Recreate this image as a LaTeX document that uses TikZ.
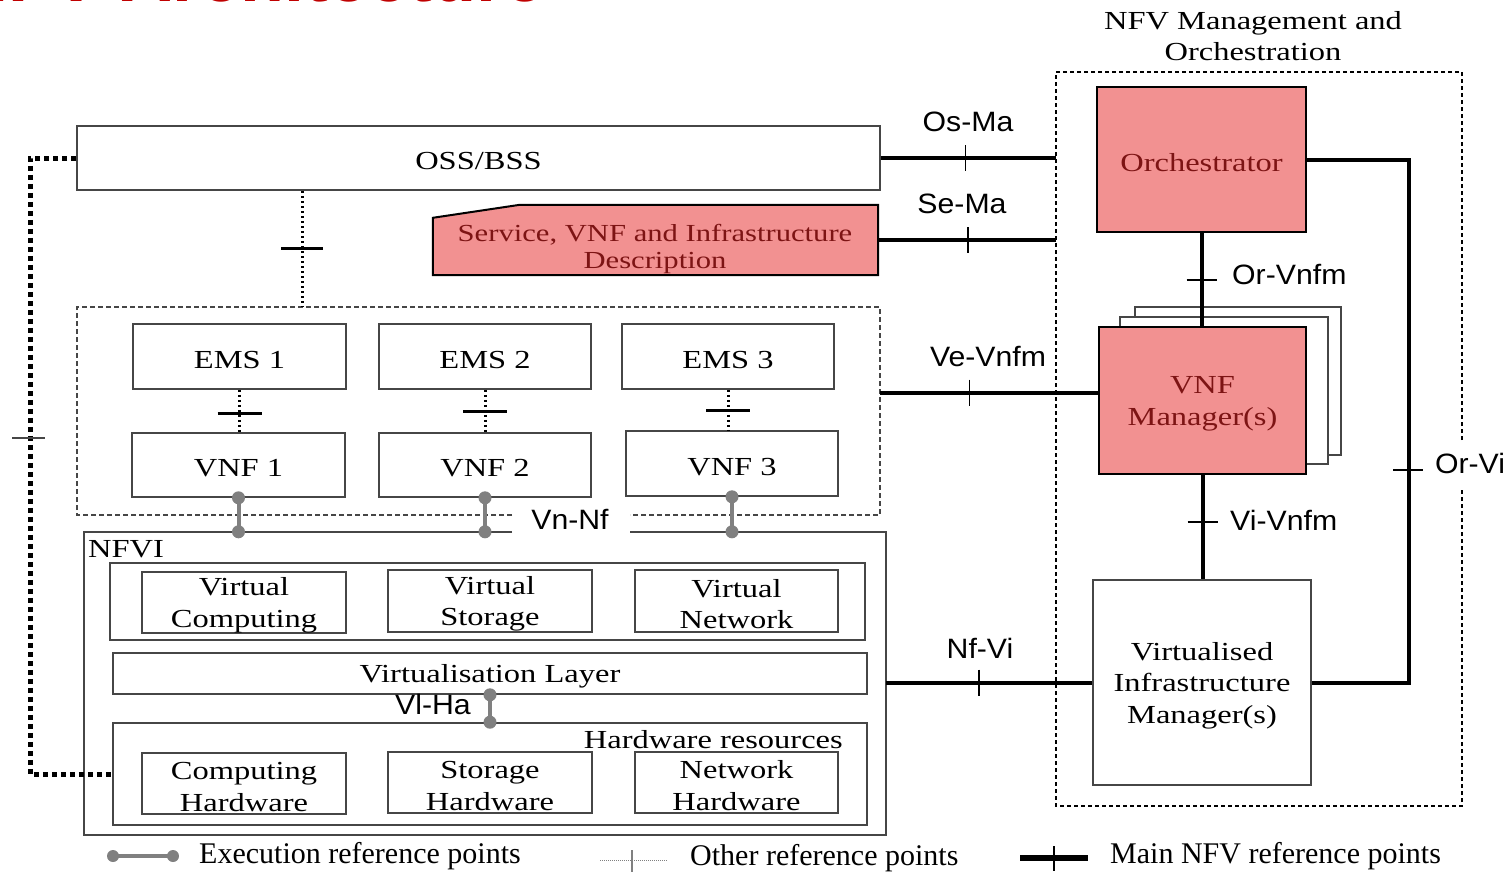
\documentclass[tikz,border=0pt]{standalone}
\usepackage{fontspec}
\setmainfont{Liberation Serif}[FakeStretch=1.25]
\newfontfamily\labfont{Liberation Sans}[FakeStretch=1.08]
\newfontfamily\legfont{Liberation Serif}
\newfontfamily\ttlfont{Liberation Sans}
\newcommand\mainsz{\fontsize{26}{31.5}\selectfont}
\newcommand\dn{\rule{0pt}{24pt}}
\definecolor{boxgray}{RGB}{70,70,70}
\definecolor{redfill}{RGB}{242,145,145}
\definecolor{redtext}{RGB}{125,20,20}
\definecolor{execgray}{RGB}{128,128,128}
\definecolor{titlered}{RGB}{192,0,0}
\begin{document}
\begin{tikzpicture}[x=1pt,y=-1pt,
  box/.style={draw=boxgray, line width=1.6pt, fill=white, align=center, inner sep=0pt, font=\mainsz},
  redbox/.style={draw=black, line width=2pt, fill=redfill, text=redtext, align=center, inner sep=0pt, font=\mainsz},
  plain/.style={inner sep=0pt, align=center, font=\mainsz},
  lbl/.style={inner sep=0pt, font=\labfont\fontsize{28}{30}\selectfont},
  legtxt/.style={inner sep=0pt, anchor=west, font=\legfont\fontsize{30}{32}\selectfont},
  mainref/.style={line width=4pt, black},
  tickm/.style={line width=1.6pt, black},
  otherref/.style={line width=3pt, black, dash pattern=on 2.5pt off 2.5pt},
  othertick/.style={line width=3pt, black},
  bigdots/.style={line width=5pt, black, dash pattern=on 5pt off 4pt},
  dashbox/.style={draw=boxgray, line width=1.6pt, dash pattern=on 5pt off 3pt},
  manodash/.style={draw=black, line width=1.6pt, dash pattern=on 4pt off 3pt},
  execref/.style={line width=4pt, draw=execgray},
  execdot/.style={fill=execgray}
]
\useasboundingbox[fill=white] (0,0) rectangle (1509,871);

% slide title, cut off by the top edge
\node[anchor=base east, text=titlered, inner sep=0pt, font=\ttlfont\bfseries\fontsize{72}{80}\selectfont] (title) at (545,1) {NFV Architecture};

% ---------------- MANO ----------------
\node[plain] (manotitle) at (1253,36) {NFV Management and\\Orchestration};
\node[minimum width=406pt, minimum height=734pt, inner sep=0pt] (mano) at (1259,439) {};
\draw[manodash] (1462,440) -- (1462,72) -- (1056,72) -- (1056,806) -- (1462,806) -- (1462,490);

\node[redbox, minimum width=209pt, minimum height=145pt] (orch) at (1201.5,159.5) {\dn Orchestrator};
\node[box, line width=1.2pt, minimum width=206pt, minimum height=148pt] (vnfmb3) at (1238,381) {};
\node[box, line width=1.2pt, minimum width=208pt, minimum height=147pt] (vnfmb2) at (1224,390.5) {};
\node[redbox, minimum width=207pt, minimum height=147pt] (vnfm) at (1202.5,400.5) {\dn VNF\\Manager(s)};
\node[box, minimum width=218pt, minimum height=205pt] (vim) at (1202,682.5) {\dn Virtualised\\Infrastructure\\Manager(s)};

% ---------------- OSS / descriptions ----------------
\node[box, minimum width=803pt, minimum height=64pt] (oss) at (478.5,158) {\dn OSS/BSS};
\node[minimum width=445pt, minimum height=70pt, inner sep=0pt] (sd) at (655.5,240) {};
\draw[black, line width=2pt, fill=redfill] ([yshift=-13pt]sd.north west) -- ([xshift=87pt]sd.north west) -- (sd.north east) -- (sd.south east) -- (sd.south west) -- cycle;
\node[plain, text=redtext, font=\fontsize{24.5}{27}\selectfont] (sdtext) at (655,249) {Service, VNF and Infrastructure\\Description};

% ---------------- VNF layer ----------------
\node[minimum width=803pt, minimum height=208pt, inner sep=0pt] (vnflayer) at (478.5,411) {};
\draw[dashbox] (512,515) -- (77,515) -- (77,307) -- (880,307) -- (880,515) -- (630,515);
\node[box, minimum width=213pt, minimum height=65pt] (ems1) at (239.5,356.5) {\dn EMS 1};
\node[box, minimum width=212pt, minimum height=65pt] (ems2) at (485,356.5) {\dn EMS 2};
\node[box, minimum width=212pt, minimum height=65pt] (ems3) at (728,356.5) {\dn EMS 3};
\node[box, minimum width=213pt, minimum height=64pt] (vnf1) at (238.5,465) {\dn VNF 1};
\node[box, minimum width=212pt, minimum height=64pt] (vnf2) at (485,465) {\dn VNF 2};
\node[box, minimum width=212pt, minimum height=65pt] (vnf3) at (732,463.5) {\dn VNF 3};

% ---------------- NFVI ----------------
\node[minimum width=802pt, minimum height=303pt, inner sep=0pt] (nfvi) at (485,683.5) {};
\draw[draw=boxgray, line width=1.6pt] (512,532) -- (84,532) -- (84,835) -- (886,835) -- (886,532) -- (630,532);
\node[plain, anchor=north west] (nfvilbl) at (88,533) {\dn NFVI};
\node[box, minimum width=755pt, minimum height=77pt] (vres) at (487.5,601.5) {};
\node[box, minimum width=204pt, minimum height=61pt] (vc) at (244,602.5) {\dn Virtual\\Computing};
\node[box, minimum width=204pt, minimum height=62pt] (vs) at (490,601) {\dn Virtual\\Storage};
\node[box, minimum width=203pt, minimum height=62pt] (vn) at (736.5,601) {\dn Virtual\\Network};
\node[box, minimum width=754pt, minimum height=41pt] (vl) at (490,673.5) {\dn Virtualisation Layer};
\node[box, minimum width=754pt, minimum height=102pt] (hw) at (490,774) {};
\node[plain, anchor=east] (hwlbl) at (843,740) {Hardware resources};
\node[box, minimum width=204pt, minimum height=61pt] (ch) at (244,783.5) {\dn Computing\\Hardware};
\node[box, minimum width=204pt, minimum height=61pt] (sh) at (490,782.5) {\dn Storage\\Hardware};
\node[box, minimum width=203pt, minimum height=61pt] (nh) at (736.5,782.5) {\dn Network\\Hardware};

% ---------------- main reference points ----------------
\draw[mainref] (oss.east) -- (oss.east -| mano.west) coordinate[pos=0.483] (tOsMa);
\draw[tickm] ([yshift=13pt]tOsMa) -- ([yshift=-13pt]tOsMa);
\node[lbl] (lOsMa) at (968,122) {Os-Ma};

\draw[mainref] (sd.east) -- (sd.east -| mano.west) coordinate[pos=0.506] (tSeMa);
\draw[tickm] ([yshift=13pt]tSeMa) -- ([yshift=-13pt]tSeMa);
\node[lbl] (lSeMa) at (962,204) {Se-Ma};

\draw[mainref] ([yshift=8pt]vnfm.west -| vnflayer.east) -- ([yshift=8pt]vnfm.west) coordinate[pos=0.41] (tVe);
\draw[tickm] ([yshift=13pt]tVe) -- ([yshift=-13pt]tVe);
\node[lbl] (lVe) at (988,356) {Ve-Vnfm};

\draw[mainref] (vim.west -| nfvi.east) -- (vim.west) coordinate[pos=0.45] (tNfVi);
\draw[tickm] ([yshift=13pt]tNfVi) -- ([yshift=-13pt]tNfVi);
\node[lbl] (lNfVi) at (980,648) {Nf-Vi};

\draw[mainref] (orch.south) -- (orch.south |- vnfm.north) coordinate[pos=0.505] (tOrVnfm);
\draw[tickm] ([xshift=-15pt]tOrVnfm) -- ([xshift=15pt]tOrVnfm);
\node[lbl, anchor=west] (lOrVnfm) at (1232,274) {Or-Vnfm};

\draw[mainref] (vnfm.south) -- (vnfm.south |- vim.north) coordinate[pos=0.45] (tViVnfm);
\draw[tickm] ([xshift=-15pt]tViVnfm) -- ([xshift=15pt]tViVnfm);
\node[lbl, anchor=west] (lViVnfm) at (1230,520) {Vi-Vnfm};

\coordinate (orvi) at (1409,470);
\draw[mainref] (orch.east) -| (orvi) |- (vim.east);
\draw[tickm] ([xshift=-16pt]orvi) -- ([xshift=14pt]orvi);
\node[lbl] (lOrVi) at (1470,463) {Or-Vi};

% ---------------- other reference points ----------------
\coordinate (ossx) at (302,0);
\draw[otherref] (oss.south -| ossx) -- (vnflayer.north -| ossx) coordinate[pos=0.5] (tOss);
\draw[othertick] ([xshift=-21pt]tOss) -- ([xshift=21pt]tOss);

\draw[otherref] (ems1.south) -- (ems1.south |- vnf1.north) coordinate[pos=0.55] (tE1);
\draw[othertick] ([xshift=-22pt]tE1) -- ([xshift=22pt]tE1);
\draw[otherref] (ems2.south) -- (ems2.south |- vnf2.north) coordinate[pos=0.5] (tE2);
\draw[othertick] ([xshift=-22pt]tE2) -- ([xshift=22pt]tE2);
\draw[otherref] (ems3.south) -- (ems3.south |- vnf3.north) coordinate[pos=0.5] (tE3);
\draw[othertick] ([xshift=-22pt]tE3) -- ([xshift=22pt]tE3);

\coordinate (leftc) at (30,438);
\draw[bigdots] (oss.west) -| (leftc) |- (hw.west);
\draw[line width=1.4pt, boxgray] ([xshift=-18pt]leftc) -- ([xshift=15pt]leftc);

% ---------------- execution reference points ----------------
\draw[execref] (vnf1.south) -- (vnf1.south |- nfvi.north);
\fill[execdot] (vnf1.south) circle (6.5pt) (vnf1.south |- nfvi.north) circle (6.5pt);
\draw[execref] (vnf2.south) -- (vnf2.south |- nfvi.north);
\fill[execdot] (vnf2.south) circle (6.5pt) (vnf2.south |- nfvi.north) circle (6.5pt);
\draw[execref] (vnf3.south) -- (vnf3.south |- nfvi.north);
\fill[execdot] (vnf3.south) circle (6.5pt) (vnf3.south |- nfvi.north) circle (6.5pt);
\node[lbl] (lVnNf) at (570,519) {Vn-Nf};

\draw[execref] (vl.south) -- (hw.north);
\fill[execdot] (vl.south) circle (6.5pt) (hw.north) circle (6.5pt);
\node[lbl] (lViHa) at (433,704) {Vl-Ha};

% ---------------- legend ----------------
\coordinate (lgEa) at (113,856);
\coordinate (lgEb) at (173,856);
\draw[execref] (lgEa) -- (lgEb);
\fill[execdot] (lgEa) circle (6pt) (lgEb) circle (6pt);
\node[legtxt] (legE) at (199,856) {Execution reference points};

\coordinate (lgOa) at (600,860);
\coordinate (lgOb) at (667,860);
\coordinate (lgOt) at (632,860);
\draw[line width=1pt, gray, dash pattern=on 1pt off 1pt] (lgOa) -- (lgOb);
\draw[line width=1.2pt, gray] ([yshift=10pt]lgOt) -- ([yshift=-12pt]lgOt);
\node[legtxt] (legO) at (690,858) {Other reference points};

\coordinate (lgMa) at (1020,858);
\coordinate (lgMb) at (1088,858);
\coordinate (lgMt) at (1054,858);
\draw[line width=6pt, black] (lgMa) -- (lgMb);
\draw[line width=1.5pt, black] ([yshift=12pt]lgMt) -- ([yshift=-13pt]lgMt);
\node[legtxt] (legM) at (1110,856) {Main NFV reference points};
\end{tikzpicture}
\end{document}
